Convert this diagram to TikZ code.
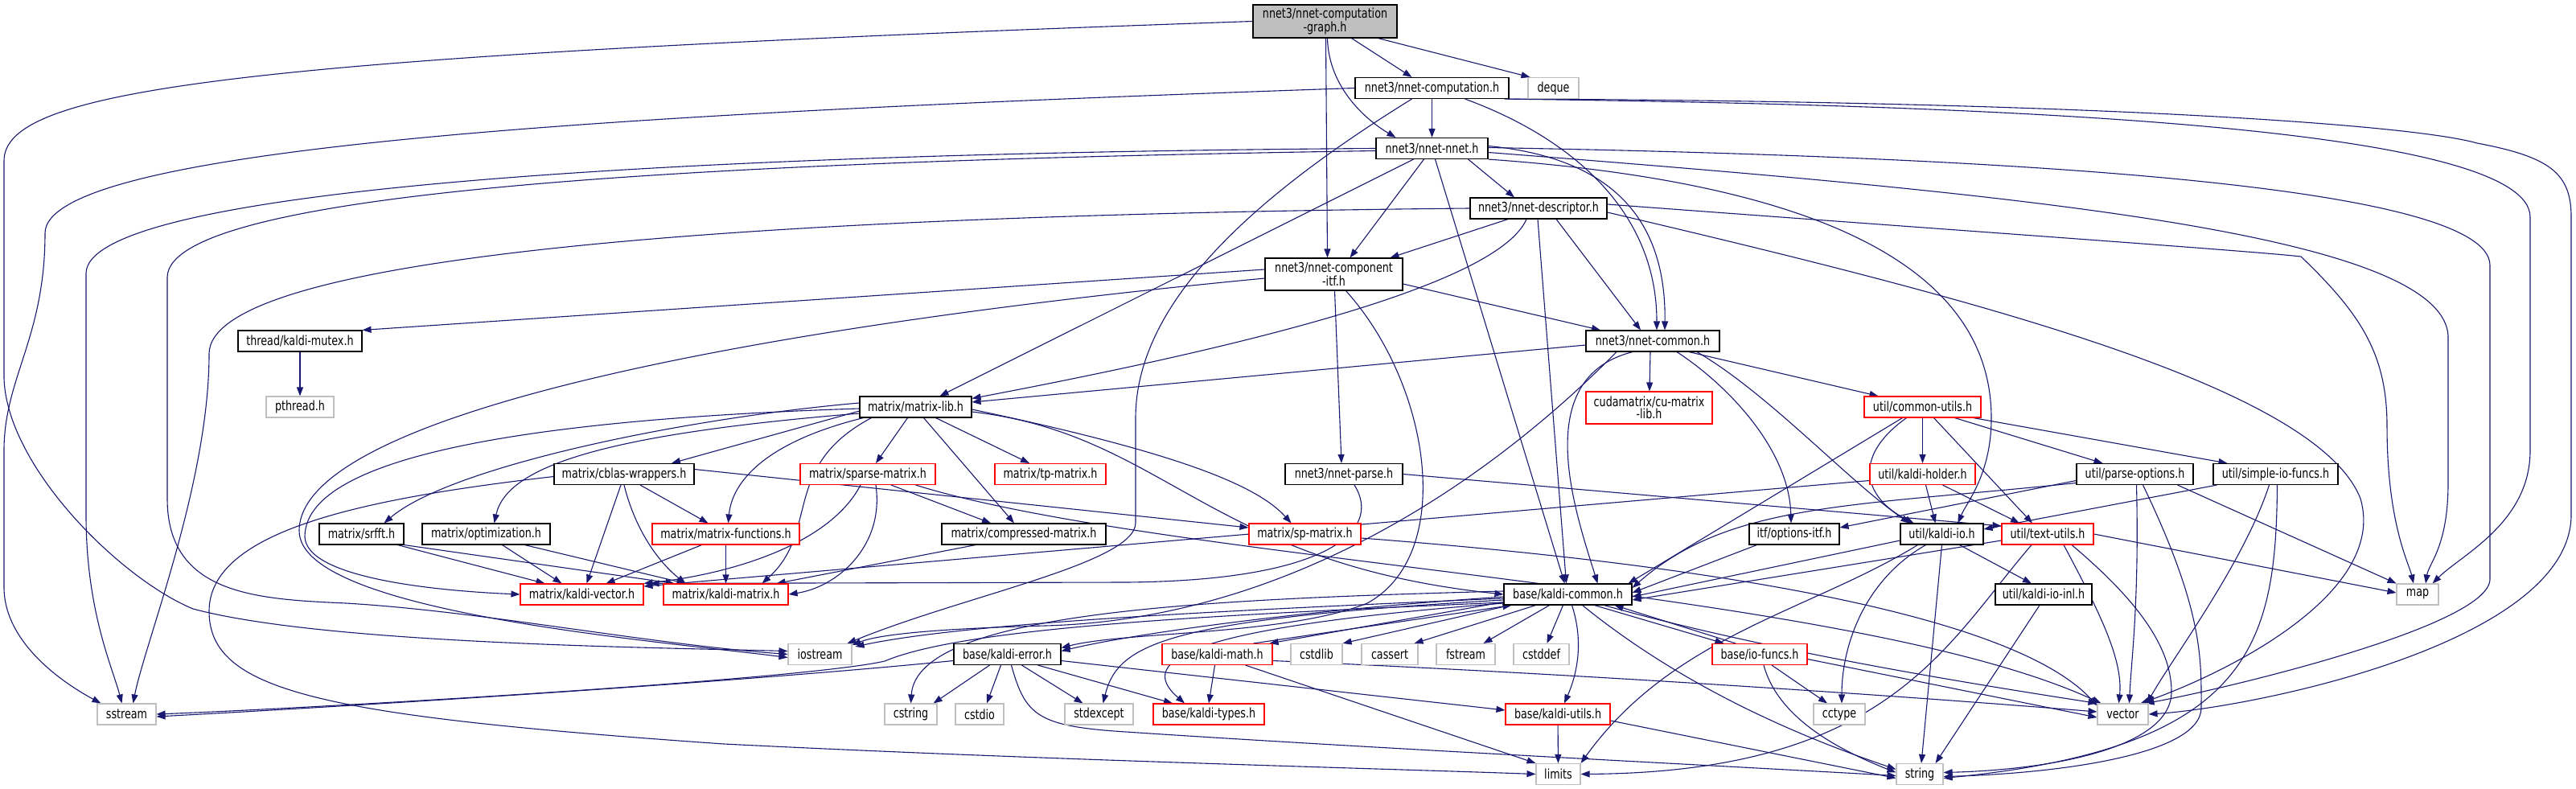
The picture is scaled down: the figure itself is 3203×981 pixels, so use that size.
\documentclass[tikz,border=0pt]{standalone}
\usepackage{fontspec}
\newfontfamily\nodefont{DejaVu Sans}[FakeStretch=0.77]
\usetikzlibrary{calc,arrows.meta}
\definecolor{edgeblue}{RGB}{25,25,112}
\definecolor{sysgray}{RGB}{191,191,191}
\pgfdeclarelayer{bg}
\pgfdeclarelayer{edges}
\pgfsetlayers{bg,edges,main}
\tikzset{
  box/.style={draw=black, line width=1.1pt, fill=white, minimum height=26pt, inner sep=0pt,
    font=\nodefont\fontsize{16.5}{14}\selectfont, align=center, text=black},
  redbox/.style={box, draw=red},
  sysbox/.style={box, draw=sysgray},
  e/.style={draw=edgeblue, line width=1.1pt, -{Triangle[length=11pt,width=8pt]}},
}
\begin{document}
\begin{tikzpicture}[x=1pt,y=-1pt]
\begin{pgfonlayer}{bg}
\fill[white] (0,0) rectangle (3203,981);
\end{pgfonlayer}
\useasboundingbox (0,0) rectangle (3203,981);
% nodes
\node[box, fill=sysgray, minimum width=179pt, minimum height=41pt] (G) at (1647.5,26.5) {nnet3/nnet-computation\\-graph.h};
\node[box, minimum width=191pt] (C) at (1780.5,109.5) {nnet3/nnet-computation.h};
\node[sysbox, minimum width=63pt] (deque) at (1931.5,109.5) {deque};
\node[box, minimum width=139pt] (N) at (1780.5,184.5) {nnet3/nnet-nnet.h};
\node[box, minimum width=170pt] (D) at (1913,259) {nnet3/nnet-descriptor.h};
\node[box, minimum width=171pt, minimum height=40pt] (CI) at (1658.5,341) {nnet3/nnet-component\\-itf.h};
\node[box, minimum width=166pt] (CM) at (2055,424) {nnet3/nnet-common.h};
\node[redbox, minimum width=157pt, minimum height=40pt] (CU) at (2050.5,507) {cudamatrix/cu-matrix\\-lib.h};
\node[box, minimum width=139pt] (ML) at (1138.5,506) {matrix/matrix-lib.h};
\node[box, minimum width=154pt] (MUT) at (373,424) {thread/kaldi-mutex.h};
\node[sysbox, minimum width=84pt] (PTH) at (373,506) {pthread.h};
\node[redbox, minimum width=145pt] (CUT) at (2390.5,506) {util/common-utils.h};
\node[box, minimum width=174pt] (CBW) at (776,589.5) {matrix/cblas-wrappers.h};
\node[redbox, minimum width=168pt] (SPA) at (1079,589.5) {matrix/sparse-matrix.h};
\node[redbox, minimum width=138pt] (TP) at (1306,589.5) {matrix/tp-matrix.h};
\node[box, minimum width=146pt] (NP) at (1671,589.5) {nnet3/nnet-parse.h};
\node[redbox, minimum width=131pt] (KH) at (2390.5,589.5) {util/kaldi-holder.h};
\node[box, minimum width=145pt] (PO) at (2654.5,589.5) {util/parse-options.h};
\node[box, minimum width=155pt] (SIO) at (2829.5,589.5) {util/simple-io-funcs.h};
\node[box, minimum width=105pt] (SRF) at (449.5,664) {matrix/srfft.h};
\node[box, minimum width=159pt] (OPT) at (604.5,664) {matrix/optimization.h};
\node[redbox, minimum width=183pt] (MF) at (902.5,664) {matrix/matrix-functions.h};
\node[box, minimum width=204pt] (CMP) at (1273,664) {matrix/compressed-matrix.h};
\node[redbox, minimum width=139pt] (SP) at (1622.5,664) {matrix/sp-matrix.h};
\node[box, minimum width=112pt] (OI) at (2231,664) {itf/options-itf.h};
\node[box, minimum width=103pt] (KIO) at (2414.5,664) {util/kaldi-io.h};
\node[redbox, minimum width=114pt] (TU) at (2546,664) {util/text-utils.h};
\node[redbox, minimum width=153pt] (KV) at (723.5,739) {matrix/kaldi-vector.h};
\node[redbox, minimum width=155pt] (KM) at (902.5,739) {matrix/kaldi-matrix.h};
\node[box, minimum width=159pt] (KC) at (1949.5,739) {base/kaldi-common.h};
\node[box, minimum width=120pt] (KIOI) at (2541,739) {util/kaldi-io-inl.h};
\node[sysbox, minimum width=52pt] (map) at (3006,739) {map};
\node[sysbox, minimum width=79pt] (IOS) at (1019.5,813.5) {iostream};
\node[box, minimum width=133pt] (KE) at (1252.5,813.5) {base/kaldi-error.h};
\node[redbox, minimum width=137pt] (KMA) at (1513.5,813.5) {base/kaldi-math.h};
\node[sysbox, minimum width=64pt] (cstdlib) at (1637,813.5) {cstdlib};
\node[sysbox, minimum width=70pt] (cassert) at (1728,813.5) {cassert};
\node[sysbox, minimum width=73pt] (fstream) at (1822.5,813.5) {fstream};
\node[sysbox, minimum width=69pt] (cstddef) at (1916.5,813.5) {cstddef};
\node[redbox, minimum width=118pt] (IOF) at (2188,813.5) {base/io-funcs.h};
\node[sysbox, minimum width=73pt] (sstream) at (157.5,888) {sstream};
\node[sysbox, minimum width=65pt] (cstring) at (1132.5,888) {cstring};
\node[sysbox, minimum width=60pt] (cstdio) at (1218,888) {cstdio};
\node[sysbox, minimum width=85pt] (stdexcept) at (1366.5,888) {stdexcept};
\node[redbox, minimum width=138pt] (KT) at (1503,888) {base/kaldi-types.h};
\node[redbox, minimum width=130pt] (KU) at (1937,888) {base/kaldi-utils.h};
\node[sysbox, minimum width=64pt] (cctype) at (2287,888) {cctype};
\node[sysbox, minimum width=63pt] (vector) at (2639.5,888) {vector};
\node[sysbox, minimum width=55pt] (limits) at (1937.5,962.5) {limits};
\node[sysbox, minimum width=58pt] (string) at (2387,962.5) {string};

\begin{pgfonlayer}{edges}
% G
\draw[e] ($(G.south)+(33,0)$) -- ($(C.north)+(-25,0)$);
\draw[e] ($(G.south)+(66,0)$) -- ($(deque.north west)+(3,0)$);
\draw[e] ($(G.south)+(3,0)$) .. controls (1652,110) and (1700,150) .. ($(N.north)+(-45,0)$);
\draw[e] ($(G.south)+(1,0)$) -- ($(CI.north)+(-8,0)$);
\draw[e] (G.west) .. controls (300,70) and (5,110) .. (5,200) -- (5,470) .. controls (8,580) and (150,720) .. (240,757) .. controls (400,800) and (800,805) .. ($(IOS.west)+(0,-4)$);
% C
\draw[e] (C) -- (N);
\draw[e] ($(C.south)+(41,0)$) .. controls (1950,170) and (2060,260) .. ($(CM.north)+(5,0)$);
\draw[e] ($(C.south)+(-25,0)$) .. controls (1550,250) and (1412,380) .. (1412,520) -- (1412,650) .. controls (1412,700) and (1200,740) .. ($(IOS.north east)+(-6,0)$);
\draw[e] (C.west) .. controls (800,140) and (56,180) .. (56,290) .. controls (56,420) and (5,470) .. (5,560) -- (5,730) .. controls (5,800) and (80,850) .. ($(sstream.north west)+(5,0)$);
\draw[e] ($(C.south east)+(-6,0)$) .. controls (2400,130) and (3146,150) .. (3146,270) -- (3146,560) .. controls (3146,650) and (3060,690) .. ($(map.north east)+(-8,0)$);
\draw[e] ($(C.south east)+(-2,0)$) .. controls (2600,126) and (3000,155) .. (3080,178) .. controls (3170,195) and (3197,215) .. (3197,270) -- (3197,640) .. controls (3197,800) and (2800,880) .. (vector.east);
% N
\draw[e] ($(N.south)+(45,0)$) -- ($(D.north)+(-30,0)$);
\draw[e] ($(N.south)+(-10,0)$) -- ($(CI.north)+(20,0)$);
\draw[e] ($(N.east)+(0,-3)$) .. controls (1990,195) and (2072,260) .. ($(CM.north)+(15,0)$);
\draw[e] ($(N.south)+(-23,0)$) -- ($(ML.north)+(30,0)$);
\draw[e] ($(N.south)+(4,0)$) -- ($(KC.north)+(-4,0)$);
\draw[e] (N.west) .. controls (900,190) and (107,230) .. (107,340) -- (107,640) .. controls (107,760) and (140,830) .. ($(sstream.north)+(-6,0)$);
\draw[e] ($(N.west)+(0,3)$) .. controls (900,200) and (208,235) .. (208,345) -- (208,620) .. controls (208,740) and (320,745) .. (430,750) .. controls (600,760) and (800,800) .. (IOS.west);
\draw[e] ($(N.east)+(0,-1)$) .. controls (2500,195) and (3096,230) .. (3096,330) -- (3096,720) .. controls (3096,780) and (2750,860) .. ($(vector.north east)+(-4,0)$);
\draw[e] ($(N.east)+(0,5)$) .. controls (2500,240) and (3044,290) .. (3044,420) -- (3044,600) .. controls (3044,680) and (3020,700) .. ($(map.north)+(10,0)$);
\draw[e] (N.south east) .. controls (2300,230) and (2476,350) .. (2476,520) .. controls (2476,590) and (2445,625) .. ($(KIO.north)+(20,0)$);
% D
\draw[e] ($(D.south)+(-38,0)$) -- ($(CI.north)+(70,0)$);
\draw[e] ($(D.south)+(22,0)$) -- ($(CM.north)+(-15,0)$);
\draw[e] ($(D.south)+(-15,0)$) .. controls (1860,360) and (1500,440) .. ($(ML.north east)+(0,3)$);
\draw[e] ($(D.south)+(-1,0)$) -- ($(KC.north)+(-2,0)$);
\draw[e] (D.west) .. controls (900,268) and (260,320) .. (260,440) .. controls (260,600) and (180,800) .. ($(sstream.north)+(8,0)$);
\draw[e] ($(D.east)+(0,-5)$) .. controls (2400,284) and (2800,312) .. (2861,319) .. controls (2935,390) and (2968,440) .. (2968,530) .. controls (2968,650) and (2995,700) .. ($(map.north)+(-5,0)$);
\draw[e] ($(D.east)+(0,5)$) .. controls (2450,370) and (2880,480) .. (2935,620) .. controls (2970,740) and (2760,840) .. ($(vector.north east)+(-10,0)$);
% CI
\draw[e] ($(CI.west)+(0,-6)$) -- (MUT.north east);
\draw[e] ($(CI.west)+(0,5)$) .. controls (900,410) and (372,520) .. (372,660) .. controls (372,760) and (800,795) .. ($(IOS.west)+(0,4)$);
\draw[e] ($(CI.east)+(0,12)$) -- ($(CM.north)+(-65,0)$);
\draw[e] ($(CI.south)+(1,0)$) -- ($(NP.north)+(-3,0)$);
\draw[e] ($(CI.south)+(15,0)$) .. controls (1780,480) and (1810,690) .. (1700,750) .. controls (1600,790) and (1400,785) .. ($(KE.east)+(0,-8)$);
% CM
\draw[e] ($(CM.west)+(0,5)$) -- ($(ML.east)+(0,-6)$);
\draw[e] ($(CM.south)+(-3,0)$) -- (CU);
\draw[e] ($(CM.south)+(45,0)$) -- ($(CUT.north)+(-55,0)$);
\draw[e] ($(CM.south)+(-25,0)$) .. controls (1900,470) and (1960,640) .. ($(KC.north)+(37,0)$);
\draw[e] ($(CM.south)+(30,0)$) .. controls (2150,480) and (2225,560) .. ($(OI.north)+(-4,0)$);
\draw[e] ($(CM.south)+(55,0)$) .. controls (2200,490) and (2300,600) .. ($(KIO.north)+(-40,0)$);
\draw[e] ($(CM.south)+(-45,0)$) .. controls (1850,600) and (1600,770) .. (1300,778) .. controls (1150,782) and (1090,790) .. ($(IOS.north east)+(0,2)$);
% ML
\draw[e] ($(ML.west)+(0,5)$) -- ($(CBW.north)+(59,0)$);
\draw[e] ($(ML.west)+(0,-5)$) .. controls (850,520) and (560,580) .. ($(SRF.north)+(28,0)$);
\draw[e] ($(ML.west)+(0,8)$) .. controls (750,540) and (630,580) .. ($(OPT.north)+(10,0)$);
\draw[e] ($(ML.south west)+(5,0)$) .. controls (950,550) and (910,600) .. ($(MF.north)+(3,0)$);
\draw[e] ($(ML.west)+(0,2)$) .. controls (700,520) and (380,560) .. (379,667) .. controls (380,720) and (550,735) .. (KV.west);
\draw[e] ($(ML.south west)+(15,0)$) .. controls (970,580) and (1020,660) .. ($(KM.north)+(45,0)$);
\draw[e] ($(ML.south)+(-10,0)$) -- ($(SPA.north)+(10,0)$);
\draw[e] ($(ML.south)+(10,0)$) -- ($(CMP.north)+(-12,0)$);
\draw[e] ($(ML.south)+(25,0)$) -- ($(TP.north)+(-26,0)$);
\draw[e] ($(ML.east)+(0,3)$) .. controls (1450,560) and (1560,600) .. ($(SP.north)+(-17,0)$);
\draw[e] ($(ML.east)+(0,6)$) .. controls (1450,540) and (1500,700) .. (KC.west);
% MUT
\draw[e] (MUT) -- (PTH);
% CBW
\draw[e] ($(CBW.south)+(-4,0)$) -- ($(KV.north)+(6,0)$);
\draw[e] ($(CBW.south)+(0,0)$) .. controls (790,660) and (820,700) .. ($(KM.north)+(-50,0)$);
\draw[e] ($(CBW.south)+(20,0)$) -- ($(MF.north)+(-22,0)$);
\draw[e] ($(CBW.east)+(0,-6)$) -- ($(SP.west)+(0,-8)$);
\draw[e] ($(CBW.west)+(0,3)$) .. controls (450,620) and (260,660) .. (260,760) .. controls (260,860) and (400,890) .. (900,925) .. controls (1300,945) and (1700,955) .. (limits.west);
% SPA
\draw[e] ($(SPA.south)+(-9,0)$) .. controls (1030,680) and (900,715) .. (KV.north east);
\draw[e] ($(SPA.south)+(10,0)$) .. controls (1100,680) and (1040,730) .. (KM.east);
\draw[e] ($(SPA.south)+(29,0)$) -- ($(CMP.north)+(-41,0)$);
\draw[e] ($(SPA.south east)+(-25,0)$) .. controls (1450,700) and (2300,730) .. ($(vector.north west)+(5,0)$);
% NP
\draw[e] (NP.east) -- ($(TU.west)+(0,-10)$);
\draw[e] ($(NP.south)+(13,0)$) .. controls (1720,660) and (1650,722) .. (1400,724) -- ($(KV.north east)+(8,0)$);
% CUT
\draw[e] (CUT) -- (KH);
\draw[e] ($(CUT.south)+(40,0)$) -- ($(PO.north)+(-40,0)$);
\draw[e] ($(CUT.south east)+(-10,0)$) -- ($(SIO.north)+(-60,0)$);
\draw[e] ($(CUT.south)+(-20,0)$) .. controls (2300,570) and (2320,620) .. ($(KIO.north)+(-35,0)$);
\draw[e] ($(CUT.south)+(14,0)$) -- ($(TU.north)+(-19,0)$);
\draw[e] ($(CUT.south)+(-25,0)$) -- ($(KC.north east)+(-5,0)$);
% KH
\draw[e] ($(KH.south)+(4,0)$) -- ($(KIO.north)+(-8,0)$);
\draw[e] ($(KH.south)+(25,0)$) -- ($(TU.north)+(-35,0)$);
\draw[e] ($(KH.west)+(0,8)$) -- ($(KV.east)+(0,-10)$);
% PO
\draw[e] ($(PO.west)+(0,8)$) -- ($(OI.east)+(0,-8)$);
\draw[e] ($(PO.west)+(0,11)$) .. controls (2300,630) and (2150,625) .. ($(KC.east)+(0,-8)$);
\draw[e] ($(PO.south)+(2,0)$) .. controls (2660,750) and (2650,820) .. ($(vector.north)+(8,0)$);
\draw[e] ($(PO.south)+(10,0)$) .. controls (2740,760) and (2737,820) .. (2737,880) .. controls (2737,940) and (2550,962) .. ($(string.east)+(0,3)$);
\draw[e] ($(PO.south east)+(-20,0)$) -- (map.north west);
% SIO
\draw[e] ($(SIO.south west)+(5,0)$) -- ($(KIO.east)+(0,-6)$);
\draw[e] ($(SIO.south)+(-8,0)$) .. controls (2790,700) and (2700,820) .. ($(vector.north east)+(-2,0)$);
\draw[e] ($(SIO.south)+(2,0)$) .. controls (2830,800) and (2800,930) .. ($(string.east)+(0,5)$);
% SRF, OPT, MF, CMP, SP
\draw[e] ($(SRF.south)+(45,0)$) -- ($(KV.north)+(-46,0)$);
\draw[e] (SRF.south east) -- ($(KM.north)+(-64,0)$);
\draw[e] ($(OPT.south)+(20,0)$) -- ($(KV.north)+(-25,0)$);
\draw[e] ($(OPT.south)+(48,0)$) -- ($(KM.north)+(-50,0)$);
\draw[e] ($(MF.south)+(-30,0)$) -- ($(KV.north)+(30,0)$);
\draw[e] (MF) -- (KM);
\draw[e] ($(CMP.south)+(-60,0)$) -- ($(KM.north east)+(-15,0)$);
\draw[e] ($(SP.east)+(0,5)$) .. controls (2100,700) and (2500,760) .. ($(vector.north west)+(0,3)$);
% OI
\draw[e] ($(OI.south west)+(10,0)$) -- ($(KC.east)+(0,-2)$);
% KIO
\draw[e] ($(KIO.west)+(0,8)$) -- ($(KC.east)+(0,3)$);
\draw[e] ($(KIO.south)+(22,0)$) -- ($(KIOI.north)+(-15,0)$);
\draw[e] (KIO.south) -- ($(string.north)+(2,0)$);
\draw[e] ($(KIO.south)+(-20,0)$) .. controls (2320,720) and (2290,800) .. ($(cctype.north)+(3,0)$);
\draw[e] ($(KIO.south)+(-30,0)$) .. controls (2250,760) and (2080,790) .. (limits.north east);
% TU
\draw[e] ($(TU.west)+(0,8)$) -- ($(KC.east)+(0,7)$);
\draw[e] (TU.east) -- ($(map.west)+(0,-2)$);
\draw[e] ($(TU.south)+(20,0)$) .. controls (2610,760) and (2640,820) .. ($(vector.north)+(-5,0)$);
\draw[e] ($(TU.south)+(30,0)$) .. controls (2650,740) and (2700,800) .. (2700,860) .. controls (2700,930) and (2550,957) .. ($(string.east)+(0,-2)$);
\draw[e] ($(TU.south)+(-20,0)$) .. controls (2420,800) and (2350,960) .. (limits.east);
% KIOI
\draw[e] ($(KIOI.south)+(-5,0)$) -- ($(string.north east)+(-10,0)$);
% KC
\draw[e] ($(KC.west)+(0,5)$) .. controls (1500,760) and (1200,775) .. ($(IOS.north east)+(4,4)$);
\draw[e] ($(KC.west)+(0,10)$) .. controls (1500,765) and (1200,780) .. (1100,822) .. controls (1000,845) and (400,880) .. (sstream.east);
\draw[e] ($(KC.west)+(0,3)$) .. controls (1600,760) and (1400,790) .. ($(KE.east)+(0,-4)$);
\draw[e] ($(KC.south west)+(0,-4)$) -- ($(KMA.north east)+(-4,0)$);
\draw[e] ($(KMA.north east)+(-24,0)$) -- ($(KC.south west)+(10,0)$);
\draw[e] ($(KC.south west)+(8,0)$) -- (cstdlib.north east);
\draw[e] ($(KC.south)+(-40,0)$) -- ($(cassert.north east)+(-5,0)$);
\draw[e] ($(KC.south)+(-23,0)$) -- ($(fstream.north)+(22,0)$);
\draw[e] ($(KC.south)+(-6,0)$) -- ($(cstddef.north)+(7,0)$);
\draw[e] ($(KC.south)+(5,0)$) .. controls (1970,800) and (1960,840) .. ($(KU.north)+(8,0)$);
\draw[e] ($(KC.south)+(18,0)$) .. controls (2100,860) and (2250,920) .. ($(string.west)+(0,-6)$);
\draw[e] ($(KC.south)+(45,0)$) .. controls (2200,810) and (2450,850) .. (vector.north west);
\draw[e] ($(KC.south)+(33,0)$) -- ($(IOF.north west)+(15,0)$);
\draw[e] ($(IOF.north)+(-30,0)$) -- ($(KC.south east)+(-22,0)$);
\draw[e] ($(KC.west)+(0,-4)$) .. controls (1500,745) and (1140,760) .. (cstring.north);
\draw[e] ($(KC.west)+(0,7)$) .. controls (1450,770) and (1390,800) .. ($(stdexcept.north)+(5,0)$);
\draw[e] ($(KC.west)+(0,11)$) .. controls (1480,780) and (1410,820) .. ($(KT.north)+(-30,0)$);
% KE
\draw[e] ($(KE.south)+(-22,0)$) -- ($(cstring.north east)+(-5,0)$);
\draw[e] ($(KE.south)+(-8,0)$) -- ($(cstdio.north)+(9,0)$);
\draw[e] ($(KE.south)+(18,0)$) -- ($(stdexcept.north)+(-20,0)$);
\draw[e] ($(KE.south)+(38,0)$) -- ($(KT.north)+(-45,0)$);
\draw[e] ($(KE.east)+(0,8)$) -- ($(KU.west)+(0,-5)$);
\draw[e] ($(KE.west)+(0,8)$) .. controls (900,850) and (400,880) .. ($(sstream.east)+(0,3)$);
\draw[e] ($(KE.south)+(5,0)$) .. controls (1275,890) and (1290,903) .. (1400,910) .. controls (1700,930) and (2100,950) .. ($(string.west)+(0,2)$);
% KMA
\draw[e] ($(KMA.south)+(-3,0)$) -- (KT.north);
\draw[e] ($(KMA.south)+(35,0)$) -- (limits.north west);
\draw[e] ($(KMA.east)+(0,8)$) .. controls (1900,835) and (2300,860) .. ($(vector.west)+(0,-3)$);
% IOF
\draw[e] ($(IOF.south)+(15,0)$) -- ($(cctype.north)+(-15,0)$);
\draw[e] ($(IOF.south)+(5,0)$) .. controls (2210,890) and (2280,930) .. ($(string.west)+(0,-2)$);
\draw[e] ($(IOF.east)+(0,6)$) -- ($(vector.west)+(0,4)$);
% KU
\draw[e] (KU) -- (limits);
\draw[e] ($(KU.east)+(0,8)$) -- ($(string.west)+(0,5)$);
\end{pgfonlayer}
\end{tikzpicture}
\end{document}
